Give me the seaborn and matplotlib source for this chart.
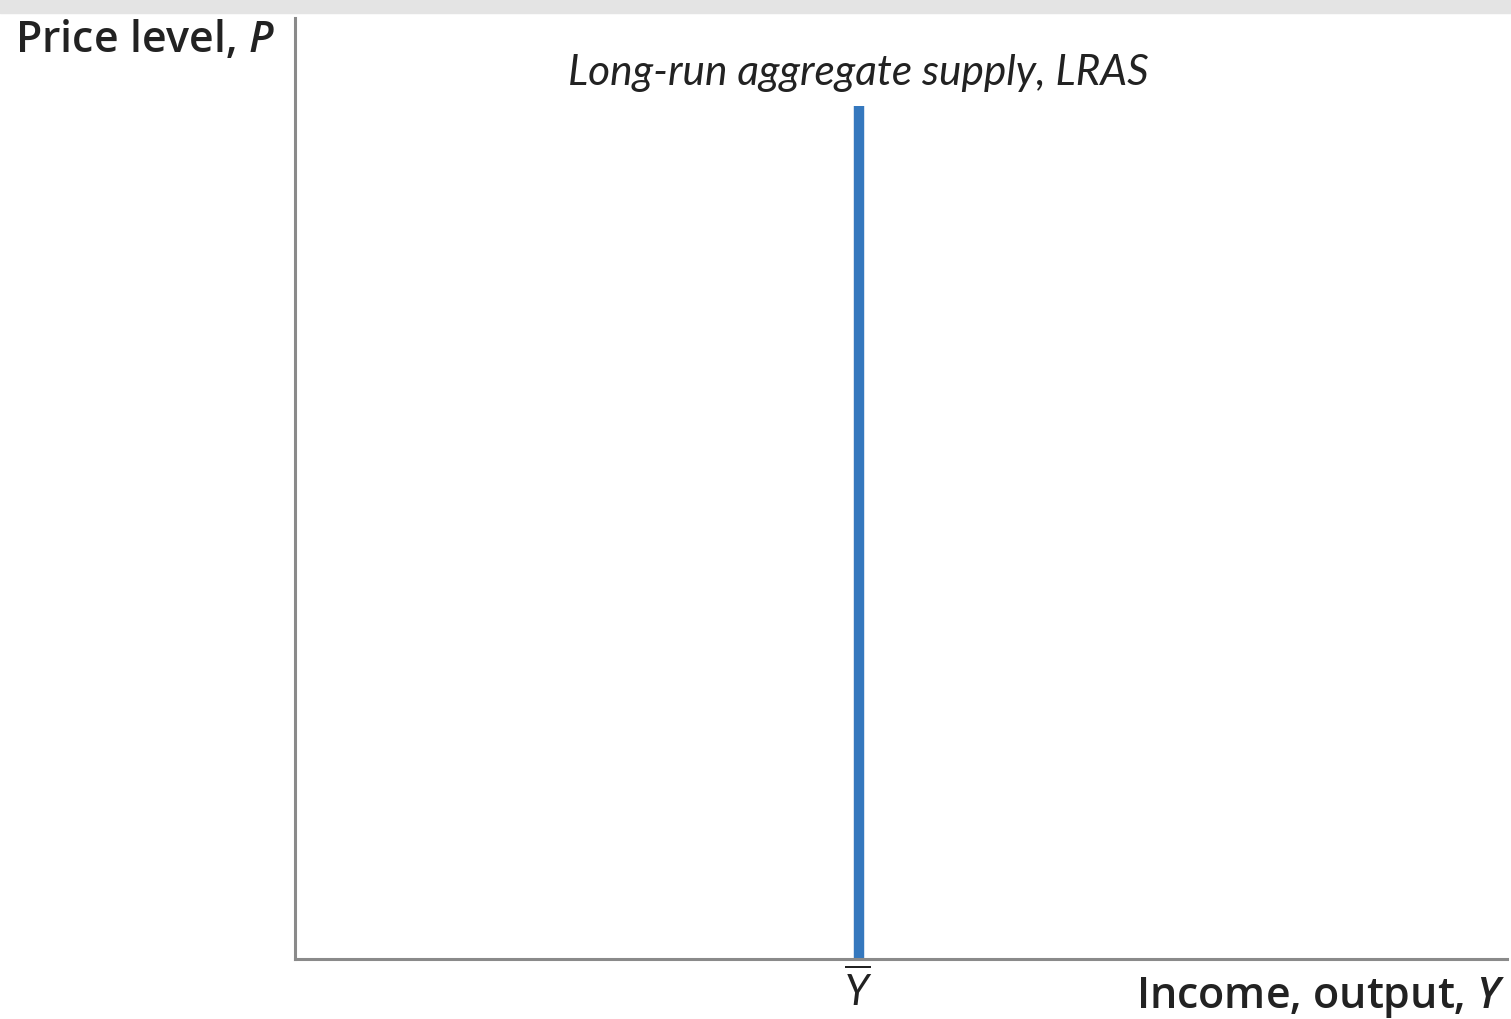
import numpy as np
import pandas as pd
import seaborn as sns
import matplotlib.pyplot as plt
from matplotlib.patches import Rectangle

sns.set_theme(style='white')
plt.rcParams['font.family'] = ['Lato', 'DejaVu Sans']
plt.rcParams['mathtext.fontset'] = 'custom'
plt.rcParams['mathtext.rm'] = 'Lato'
plt.rcParams['mathtext.it'] = 'Lato:italic'
plt.rcParams['mathtext.bf'] = 'Open Sans:semibold:italic'

# data: long-run aggregate supply is vertical at natural output Y-bar
lras_x = [0.465, 0.465]
lras_y = [0.0, 0.906]
ybar = 0.465

lras = pd.DataFrame({'Y': lras_x, 'P': lras_y})

fig = plt.figure(figsize=(15.11, 10.19), dpi=100)
ax = fig.add_axes([0.1952, 0.0589, 0.8022, 0.9234])

sns.lineplot(data=lras, x='Y', y='P', estimator=None, sort=False,
             color='#3578be', linewidth=7.5, solid_capstyle='butt', ax=ax)

ax.set_xlim(0, 1)
ax.set_ylim(0, 1)
ax.set_xticks([])
ax.set_yticks([])
ax.set_xlabel('')
ax.set_ylabel('')
sns.despine(ax=ax)
for side in ['left', 'bottom']:
    ax.spines[side].set_color('#8a8a8a')
    ax.spines[side].set_linewidth(2.2)

ax.text(ybar, 0.942, 'Long-run aggregate supply, LRAS', style='italic',
        fontsize=30.5, ha='center', va='center', color='#222222')
ax.text(ybar, -0.033, r'$\overline{Y}$', fontsize=30, ha='center', va='center',
        color='#222222')

lab = dict(fontsize=31, family='Open Sans', fontweight='semibold',
           ha='right', va='center', color='#222222')
fig.text(275 / 1511, 1 - 40 / 1019, r'Price level, $\mathbf{P}$', **lab)
fig.text(1505 / 1511, 1 - 998 / 1019, r'Income, output, $\mathbf{Y}$', **lab)

# light gray band across the top
fig.patches.append(Rectangle((0, 1 - 13 / 1019), 1, 13 / 1019,
                             transform=fig.transFigure, color='#e4e4e4',
                             zorder=-1))

fig.savefig('out.png', dpi=100)
